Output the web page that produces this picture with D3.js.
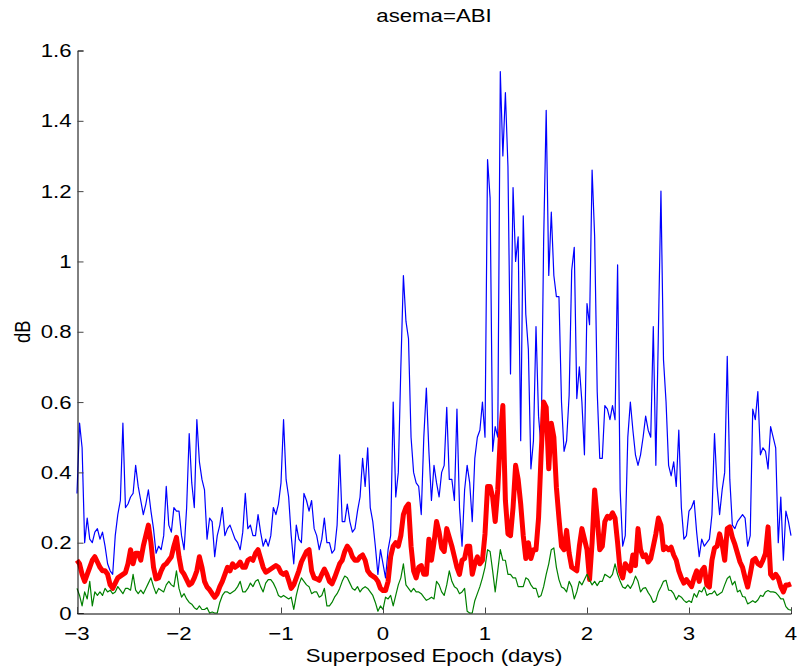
<!DOCTYPE html>
<html><head><meta charset="utf-8">
<script src="https://cdn.jsdelivr.net/npm/d3@7/dist/d3.min.js"></script>
<style>
body{margin:0;background:#fff}
svg{display:block}
text{font-family:"Liberation Sans",Arial,Helvetica,sans-serif;fill:#000}
</style>
</head><body>
<svg id="chart" width="797" height="666"></svg>
<script>
const titleText = "asema=ABI";
const xLabelText = "Superposed Epoch (days)";
const yLabelText = "dB";
const xTicks = [-3,-2,-1,0,1,2,3,4];
const xTickLabels = ["\u22123","\u22122","\u22121","0","1","2","3","4"];
const yTicks = [0,0.2,0.4,0.6,0.8,1,1.2,1.4,1.6];
const yTickLabels = ["0","0.2","0.4","0.6","0.8","1","1.2","1.4","1.6"];
const dayStart = -3, samplesPerDay = 40;

const blueValues = [
0.34,0.54,0.47,0.20,0.27,0.21,0.20,0.23,0.24,0.21,
0.23,0.19,0.14,0.12,0.11,0.22,0.28,0.32,0.54,0.30,
0.31,0.33,0.34,0.42,0.36,0.32,0.28,0.31,0.35,0.29,
0.24,0.17,0.19,0.18,0.22,0.36,0.25,0.23,0.30,0.29,
0.29,0.22,0.18,0.30,0.51,0.37,0.30,0.55,0.43,0.38,
0.35,0.21,0.27,0.26,0.16,0.22,0.25,0.30,0.22,0.24,
0.25,0.23,0.21,0.20,0.18,0.23,0.34,0.24,0.25,0.22,
0.22,0.28,0.23,0.19,0.21,0.19,0.22,0.30,0.28,0.31,
0.37,0.55,0.38,0.33,0.22,0.14,0.25,0.21,0.20,0.34,
0.32,0.29,0.32,0.24,0.22,0.18,0.21,0.27,0.20,0.20,
0.17,0.18,0.25,0.45,0.26,0.26,0.31,0.26,0.23,0.24,
0.29,0.33,0.44,0.36,0.47,0.30,0.26,0.19,0.11,0.18,
0.14,0.10,0.18,0.22,0.60,0.33,0.40,0.70,0.96,0.83,
0.78,0.50,0.40,0.37,0.36,0.28,0.50,0.64,0.46,0.32,
0.42,0.37,0.33,0.40,0.42,0.585,0.38,0.38,0.32,0.58,
0.30,0.19,0.35,0.42,0.37,0.26,0.44,0.50,0.52,0.60,
0.50,1.29,1.18,0.46,0.53,0.50,1.54,1.30,1.48,1.27,
0.68,1.21,1.00,1.07,0.49,1.13,0.85,0.75,0.41,0.49,
0.815,0.56,0.47,1.06,1.43,0.96,1.14,0.96,0.90,0.90,
0.60,0.46,0.49,0.62,0.975,1.04,0.61,0.70,0.60,0.45,
0.88,0.82,1.26,1.07,0.63,0.44,0.44,0.59,0.58,0.55,
0.59,0.55,0.99,0.35,0.19,0.22,0.50,0.60,0.52,0.45,
0.42,0.45,0.50,0.56,0.52,0.50,0.815,0.42,0.80,1.20,
0.72,0.60,0.42,0.39,0.43,0.36,0.52,0.30,0.21,0.22,
0.29,0.30,0.32,0.23,0.16,0.21,0.19,0.20,0.21,0.28,
0.51,0.36,0.28,0.35,0.40,0.73,0.38,0.25,0.24,0.26,
0.27,0.28,0.27,0.19,0.22,0.58,0.55,0.63,0.45,0.47,
0.46,0.41,0.53,0.50,0.47,0.20,0.33,0.15,0.29,0.26,
0.22];

const redValues = [
0.15,0.14,0.11,0.09,0.11,0.13,0.15,0.16,0.145,0.13,
0.12,0.12,0.11,0.08,0.07,0.085,0.10,0.105,0.11,0.115,
0.14,0.18,0.14,0.17,0.17,0.15,0.19,0.22,0.25,0.20,
0.13,0.097,0.10,0.12,0.135,0.14,0.15,0.16,0.19,0.215,
0.16,0.12,0.11,0.095,0.08,0.085,0.10,0.12,0.16,0.13,
0.09,0.074,0.066,0.055,0.045,0.055,0.075,0.09,0.11,0.13,
0.12,0.14,0.13,0.135,0.145,0.13,0.13,0.15,0.155,0.15,
0.17,0.18,0.155,0.13,0.116,0.12,0.125,0.13,0.135,0.13,
0.115,0.11,0.115,0.093,0.07,0.08,0.10,0.12,0.145,0.16,
0.175,0.18,0.12,0.10,0.097,0.093,0.11,0.125,0.11,0.09,
0.083,0.10,0.12,0.14,0.15,0.175,0.19,0.18,0.16,0.15,
0.15,0.16,0.165,0.15,0.12,0.11,0.105,0.10,0.09,0.07,
0.064,0.064,0.09,0.16,0.19,0.20,0.19,0.22,0.28,0.30,
0.31,0.19,0.12,0.10,0.13,0.135,0.11,0.11,0.21,0.15,
0.20,0.26,0.23,0.185,0.175,0.24,0.215,0.19,0.16,0.13,
0.11,0.15,0.155,0.19,0.19,0.11,0.14,0.16,0.14,0.15,
0.225,0.36,0.36,0.33,0.26,0.35,0.50,0.59,0.32,0.225,
0.22,0.30,0.42,0.38,0.31,0.22,0.155,0.20,0.155,0.18,
0.18,0.27,0.45,0.60,0.585,0.41,0.54,0.50,0.357,0.27,
0.19,0.18,0.235,0.17,0.13,0.125,0.12,0.19,0.24,0.21,
0.18,0.095,0.20,0.35,0.27,0.18,0.19,0.26,0.275,0.27,
0.285,0.27,0.20,0.12,0.10,0.14,0.13,0.12,0.165,0.135,
0.24,0.18,0.16,0.165,0.145,0.155,0.19,0.225,0.27,0.25,
0.18,0.187,0.18,0.187,0.165,0.15,0.12,0.10,0.085,0.095,
0.085,0.075,0.10,0.12,0.09,0.12,0.13,0.08,0.074,0.15,
0.185,0.19,0.225,0.195,0.15,0.24,0.245,0.215,0.195,0.17,
0.145,0.13,0.10,0.074,0.11,0.15,0.155,0.14,0.135,0.15,
0.17,0.245,0.11,0.10,0.11,0.10,0.075,0.06,0.08,0.08,
0.083];

const greenValues = [
0.07,0.05,0.02,0.06,0.04,0.09,0.02,0.06,0.05,0.06,
0.05,0.07,0.06,0.065,0.055,0.06,0.075,0.065,0.055,0.07,
0.07,0.065,0.11,0.065,0.055,0.065,0.055,0.07,0.085,0.10,
0.075,0.055,0.07,0.065,0.06,0.08,0.09,0.08,0.075,0.12,
0.07,0.045,0.055,0.04,0.03,0.025,0.015,0.01,0.02,0.01,
0.01,0.015,0.0,0.003,0.0,0.0,0.03,0.05,0.06,0.06,
0.055,0.06,0.065,0.075,0.09,0.06,0.06,0.07,0.085,0.075,
0.09,0.095,0.075,0.06,0.085,0.095,0.095,0.085,0.07,0.05,
0.045,0.05,0.045,0.04,0.045,0.01,0.05,0.08,0.10,0.09,
0.08,0.075,0.055,0.06,0.06,0.045,0.05,0.07,0.02,0.02,
0.03,0.045,0.055,0.07,0.09,0.105,0.10,0.085,0.07,0.065,
0.075,0.06,0.07,0.075,0.07,0.06,0.05,0.03,0.005,0.02,
0.01,0.045,0.04,0.05,0.02,0.05,0.08,0.10,0.14,0.08,
0.07,0.06,0.07,0.06,0.06,0.055,0.045,0.036,0.04,0.045,
0.04,0.09,0.08,0.06,0.05,0.08,0.12,0.09,0.075,0.07,
0.055,0.06,0.07,0.005,0.0,0.0,0.035,0.055,0.075,0.10,
0.13,0.18,0.175,0.12,0.06,0.12,0.18,0.15,0.15,0.11,
0.11,0.10,0.10,0.075,0.075,0.075,0.10,0.095,0.08,0.07,
0.07,0.045,0.05,0.075,0.11,0.14,0.18,0.185,0.13,0.095,
0.074,0.07,0.06,0.09,0.075,0.04,0.06,0.09,0.08,0.095,
0.11,0.093,0.08,0.09,0.078,0.09,0.09,0.11,0.105,0.10,
0.11,0.14,0.11,0.09,0.074,0.07,0.08,0.07,0.083,0.105,
0.09,0.06,0.07,0.072,0.058,0.047,0.03,0.035,0.06,0.074,
0.09,0.093,0.065,0.064,0.055,0.038,0.05,0.045,0.036,0.03,
0.035,0.03,0.055,0.045,0.064,0.06,0.074,0.05,0.055,0.055,
0.063,0.05,0.055,0.06,0.08,0.098,0.105,0.08,0.09,0.06,
0.065,0.047,0.045,0.026,0.03,0.035,0.03,0.037,0.05,0.047,
0.06,0.064,0.06,0.06,0.058,0.05,0.04,0.04,0.018,0.01,
0.008];

const days = blueValues.map((_, i) => dayStart + i / samplesPerDay);

const svg = d3.select("#chart");
const x = d3.scaleLinear().domain([-3, 4]).range([77, 791]);
const y = d3.scaleLinear().domain([0, 1.6]).range([613, 50.5]);
const stretch = 1.2;
const fs = 18.5;

const line = d3.line().x((d, i) => x(days[i])).y(d => y(d));

const series = [
  {values: blueValues, color: "#0000ff", width: 1.2},
  {values: redValues, color: "#ff0000", width: 5},
  {values: greenValues, color: "#008000", width: 1.2}
];
svg.append("g").selectAll("path").data(series).join("path")
  .attr("d", s => line(s.values))
  .attr("fill", "none")
  .attr("stroke", s => s.color)
  .attr("stroke-width", s => s.width)
  .attr("stroke-linejoin", "round");

// axes
const yAxis = d3.axisLeft(y).tickValues(yTicks).tickSize(-6).tickFormat("");
const gy = svg.append("g").attr("transform", "translate(77.5,0)").call(yAxis);
gy.select(".domain").attr("stroke", "#000");
gy.selectAll(".tick line").attr("stroke", "#444");

const xAxis = d3.axisBottom(x).tickValues(xTicks).tickSize(-6).tickFormat("");
const gx = svg.append("g").attr("transform", "translate(0,613.5)").call(xAxis);
gx.select(".domain").attr("stroke", "#000");
gx.selectAll(".tick line").attr("stroke", "#444");

// tick labels
svg.append("g").selectAll("text").data(yTicks).join("text")
  .attr("transform", (d) => `translate(71.5,${y(d) + 6.6}) scale(${stretch},1)`)
  .attr("text-anchor", "end")
  .style("font-size", fs + "px")
  .text((d, i) => yTickLabels[i]);

svg.append("g").selectAll("text").data(xTicks).join("text")
  .attr("transform", (d) => `translate(${x(d)},640) scale(${stretch},1)`)
  .attr("text-anchor", "middle")
  .style("font-size", fs + "px")
  .text((d, i) => xTickLabels[i]);

// titles
svg.append("text")
  .attr("transform", `translate(${(x(-3) + x(4)) / 2},661.5) scale(${stretch},1)`)
  .attr("text-anchor", "middle").style("font-size", fs + "px").text(xLabelText);
svg.append("text")
  .attr("transform", `translate(${(x(-3) + x(4)) / 2},22) scale(${stretch},1)`)
  .attr("text-anchor", "middle").style("font-size", fs + "px").text(titleText);
svg.append("text")
  .attr("transform", `translate(30,${(y(0) + y(1.6)) / 2}) scale(${stretch},1) rotate(-90)`)
  .attr("text-anchor", "middle").style("font-size", fs + "px").text(yLabelText);
</script>
</body></html>
